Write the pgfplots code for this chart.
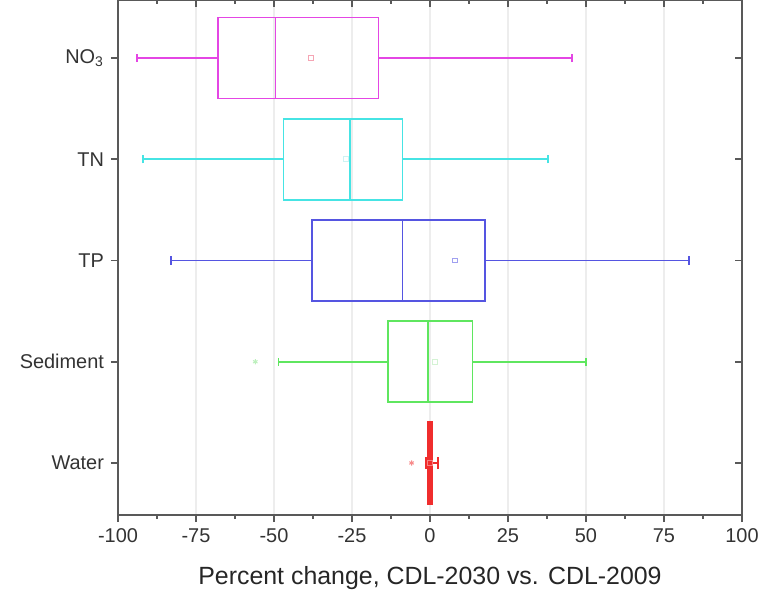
\documentclass[border=0pt]{standalone}
\usepackage{fontspec}
\setmainfont{Liberation Sans}
\usepackage{pgfplots}
\pgfplotsset{compat=1.18}
\usepgfplotslibrary{statistics}

\definecolor{cNO}{RGB}{228,70,228}
\definecolor{cNOm}{RGB}{245,165,180}
\definecolor{cTN}{RGB}{70,228,228}
\definecolor{cTNm}{RGB}{205,243,243}
\definecolor{cTP}{RGB}{85,85,225}
\definecolor{cTPm}{RGB}{160,160,240}
\definecolor{cSed}{RGB}{95,230,95}
\definecolor{cSedm}{RGB}{212,243,212}
\definecolor{cWat}{RGB}{240,45,45}

\pgfplotsset{frame/.style={
  scale only axis,
  width=312bp, height=257.5bp,
  xmin=-100, xmax=100, ymin=0.486, ymax=5.573,
  xtick={-100,-75,-50,-25,0,25,50,75,100},
  minor x tick num=1,
  ytick={1,2,3,4,5},
  major tick length=3.5bp, minor tick length=2bp,
  axis line style={black!65, line width=1bp},
  tick style={black!65, line width=0.8bp},
},
mean/.style={boxplot/draw/average/.code={%
  \draw[draw=#1, line width=0.5bp, solid]
    (boxplot box cs:\pgfplotsboxplotvalue{average},0.5) ++(-1.2bp,-1.2bp) rectangle ++(2.4bp,2.4bp);}},
}

\begin{document}
\begin{tikzpicture}
\begin{axis}[
  frame,
  xticklabels={-100,-75,-50,-25,0,25,50,75,100},
  yticklabels={Water,Sediment,TP,TN,NO\textsubscript{3}},
  xtick pos=bottom, ytick pos=left,
  tick align=outside,
  xmajorgrids,
  major grid style={black!7, line width=0.6bp},
  ticklabel style={font=\fontsize{10}{12}\selectfont, text=black!80},
  xlabel={Percent change, CDL-2030 vs. CDL-2009},
  xlabel style={font=\fontsize{12.5}{15}\selectfont, text=black!85,
    at={(rel axis cs:0.5,0)}, anchor=base, yshift=-34.5bp},
  boxplot/box extend=0.8,
  boxplot/whisker extend=0.08,
]
% NO3
\addplot[draw=cNO, line width=0.8bp, mean=cNOm,
  boxplot prepared={lower whisker=-94, lower quartile=-68, median=-49.5,
    upper quartile=-16.5, upper whisker=45.5, average=-38.2, draw position=5}]
  coordinates {};
% TN
\addplot[draw=cTN, line width=0.8bp, mean=cTNm,
  boxplot prepared={lower whisker=-92, lower quartile=-47, median=-25.6,
    upper quartile=-8.8, upper whisker=37.8, average=-27, draw position=4}]
  coordinates {};
% TP
\addplot[draw=cTP, line width=0.8bp, mean=cTPm,
  boxplot prepared={lower whisker=-83, lower quartile=-37.8, median=-8.8,
    upper quartile=17.6, upper whisker=83, average=8, draw position=3}]
  coordinates {};
% Sediment
\addplot[draw=cSed, line width=0.8bp, mean=cSedm, mark=asterisk, mark size=1.3bp,
  mark options={draw=cSedm!80!cSed, line width=0.5bp},
  boxplot prepared={lower whisker=-48.5, lower quartile=-13.4, median=-0.6,
    upper quartile=13.6, upper whisker=50, average=1.5, draw position=2}]
  table[row sep=\\, y index=0] {data\\ -56\\};
% Water
\addplot[draw=cWat, line width=1.3bp, mean=cWat!60, mark=asterisk, mark size=1.3bp,
  mark options={draw=cWat!55, line width=0.5bp},
  boxplot/whisker extend=0.12,
  boxplot prepared={lower whisker=-1.2, lower quartile=-0.4, median=0,
    upper quartile=0.4, upper whisker=2.6, average=0.1, draw position=1}]
  table[row sep=\\, y index=0] {data\\ -5.9\\};
\coordinate (sw) at (rel axis cs:0,0);
\coordinate (ne) at (rel axis cs:1,1);
\end{axis}
% inward ticks on the top and right sides
\begin{axis}[
  frame,
  xticklabels={}, yticklabels={},
  xtick pos=top, ytick pos=right,
  tick align=inside,
]
\end{axis}
\pgfresetboundingbox
\path[use as bounding box] ([shift={(-59bp,-39.5bp)}]sw) rectangle ([shift={(13.5bp,0bp)}]ne);
\end{tikzpicture}
\end{document}
